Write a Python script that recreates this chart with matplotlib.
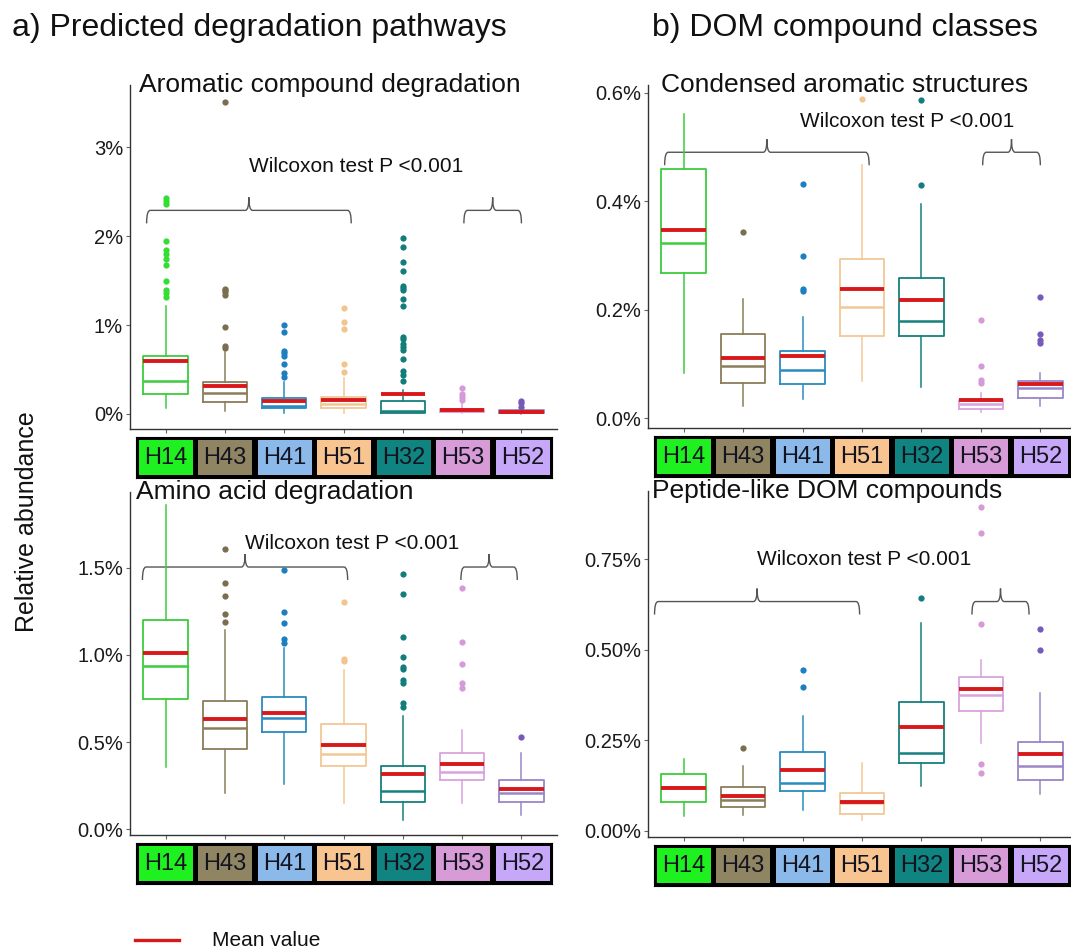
import matplotlib
matplotlib.use("Agg")
import matplotlib.pyplot as plt
from matplotlib.path import Path
from matplotlib.patches import PathPatch
from matplotlib.lines import Line2D

plt.rcParams["font.family"] = ["Liberation Sans", "DejaVu Sans"]

W, H = 1071, 949

groups = ["H14", "H43", "H41", "H51", "H32", "H53", "H52"]
line_colors = ["#3dcc3d", "#8a7d5a", "#2a8bbf", "#f2c796", "#15807e", "#d9a3dd", "#9a86c8"]
point_colors = ["#33dd33", "#7a6e4e", "#1d7fc0", "#f3c58e", "#137d7b", "#d69ad9", "#7759b8"]
strip_colors = ["#1ff01f", "#908562", "#8bb9ea", "#f8c48f", "#0f8480", "#d79bd8", "#c7a8f8"]
mean_color = "#d7191c"

# a) Aromatic compound degradation (%)
arom_q1 = [0.225, 0.131, 0.064, 0.064, 0.015, 0.019, 0.008]
arom_med = [0.37, 0.232, 0.094, 0.11, 0.037, 0.037, 0.026]
arom_q3 = [0.65, 0.363, 0.176, 0.195, 0.15, 0.056, 0.045]
arom_lo = [0.07, 0.034, 0.015, 0.01, 0.008, 0.008, 0.0]
arom_hi = [1.22, 0.70, 0.363, 0.40, 0.27, 0.12, 0.064]
arom_mean = [0.60, 0.318, 0.15, 0.157, 0.22, 0.045, 0.026]
arom_out = [
    [1.32, 1.36, 1.39, 1.50, 1.68, 1.74, 1.80, 1.84, 1.94, 2.36, 2.40, 2.43],
    [0.74, 0.77, 0.98, 1.34, 1.37, 1.39, 1.41, 3.51],
    [0.42, 0.46, 0.56, 0.65, 0.69, 0.71, 0.92, 1.0],
    [0.47, 0.56, 0.96, 1.04, 1.19],
    [0.37, 0.44, 0.48, 0.62, 0.72, 0.75, 0.79, 0.84, 0.87, 1.22, 1.29, 1.39,
     1.42, 1.44, 1.61, 1.71, 1.88, 1.98],
    [0.16, 0.19, 0.23, 0.29],
    [0.08, 0.12, 0.15],
]

# a) Amino acid degradation (%)
amino_q1 = [0.748, 0.458, 0.555, 0.362, 0.155, 0.282, 0.158]
amino_med = [0.935, 0.578, 0.637, 0.431, 0.221, 0.33, 0.206]
amino_q3 = [1.202, 0.735, 0.759, 0.601, 0.362, 0.435, 0.282]
amino_lo = [0.359, 0.21, 0.26, 0.149, 0.053, 0.149, 0.082]
amino_hi = [1.86, 1.141, 1.036, 0.912, 0.651, 0.569, 0.439]
amino_mean = [1.013, 0.632, 0.668, 0.483, 0.315, 0.372, 0.229]
amino_out = [
    [],
    [1.189, 1.236, 1.338, 1.412, 1.605],
    [1.068, 1.093, 1.183, 1.246, 1.488],
    [0.965, 0.975, 1.303],
    [0.702, 0.721, 0.84, 0.855, 0.916, 0.93, 0.988, 1.103, 1.351, 1.462],
    [0.807, 0.841, 0.946, 1.074, 1.38],
    [0.53],
]

# b) Condensed aromatic structures (%)
cond_q1 = [0.268, 0.065, 0.063, 0.152, 0.152, 0.017, 0.037]
cond_med = [0.323, 0.095, 0.089, 0.204, 0.178, 0.025, 0.055]
cond_q3 = [0.46, 0.154, 0.124, 0.294, 0.258, 0.034, 0.068]
cond_lo = [0.083, 0.022, 0.035, 0.068, 0.057, 0.011, 0.022]
cond_hi = [0.56, 0.22, 0.186, 0.467, 0.394, 0.046, 0.083]
cond_mean = [0.346, 0.111, 0.114, 0.237, 0.218, 0.033, 0.063]
cond_out = [
    [],
    [0.343],
    [0.235, 0.237, 0.298, 0.432],
    [0.589],
    [0.43, 0.586],
    [0.065, 0.071, 0.095, 0.181],
    [0.138, 0.143, 0.155, 0.223],
]

# b) Peptide-like DOM compounds (%)
pept_q1 = [0.081, 0.067, 0.109, 0.046, 0.187, 0.332, 0.141]
pept_med = [0.121, 0.086, 0.133, 0.078, 0.214, 0.375, 0.178]
pept_q3 = [0.157, 0.122, 0.219, 0.104, 0.355, 0.424, 0.245]
pept_lo = [0.04, 0.044, 0.058, 0.03, 0.124, 0.242, 0.102]
pept_hi = [0.198, 0.178, 0.317, 0.187, 0.573, 0.472, 0.382]
pept_mean = [0.118, 0.097, 0.168, 0.079, 0.286, 0.392, 0.213]
pept_out = [
    [],
    [0.228],
    [0.398, 0.444],
    [],
    [0.644],
    [0.159, 0.185, 0.571, 0.822, 0.893],
    [0.498, 0.557],
]

fig = plt.figure(figsize=(W / 100, H / 100), dpi=100)


def px_axes(left, top, right, bottom):
    return fig.add_axes([left / W, 1 - bottom / H, (right - left) / W, (bottom - top) / H])


def brace(ax, x1, x2, y, d, w=0.06):
    xm = (x1 + x2) / 2
    verts = [(x1, y - d), (x1, y), (x1 + w, y), (xm - w, y), (xm, y), (xm, y + d),
             (xm, y), (xm + w, y), (x2 - w, y), (x2, y), (x2, y - d)]
    codes = [Path.MOVETO, Path.CURVE3, Path.CURVE3, Path.LINETO, Path.CURVE3, Path.CURVE3,
             Path.CURVE3, Path.CURVE3, Path.LINETO, Path.CURVE3, Path.CURVE3]
    ax.add_patch(PathPatch(Path(verts, codes), fill=False, edgecolor="#555555", lw=1.0))


def box_panel(box, q1, med, q3, lo, hi, mean, out, ylim, yticks, ylabels,
              title, title_x, wil_x, wil_y, br_left, br_right, br_y):
    left, top, right, bottom = box
    ax = px_axes(left, top, right, bottom)
    stats = []
    for i in range(len(groups)):
        stats.append(dict(q1=q1[i], med=med[i], q3=q3[i], whislo=lo[i], whishi=hi[i],
                          mean=mean[i], fliers=out[i], label=groups[i]))
    pos = list(range(1, len(groups) + 1))
    bp = ax.bxp(stats, positions=pos, widths=0.75, showmeans=True, meanline=True,
                showcaps=False,
                boxprops=dict(lw=1.3), whiskerprops=dict(lw=1.1),
                medianprops=dict(lw=1.8),
                meanprops=dict(color=mean_color, lw=2.8, ls="-", zorder=4),
                flierprops=dict(marker="o", markersize=4.5, markeredgewidth=0))
    for i in range(len(groups)):
        bp["boxes"][i].set_color(line_colors[i])
        bp["medians"][i].set_color(line_colors[i])
        bp["whiskers"][2 * i].set_color(line_colors[i])
        bp["whiskers"][2 * i + 1].set_color(line_colors[i])
        bp["fliers"][i].set_markerfacecolor(point_colors[i])
        bp["means"][i].set_color(mean_color)
    ax.set_xlim(0.4, 7.6)
    ax.set_ylim(*ylim)
    ax.set_yticks(yticks)
    ax.set_yticklabels(ylabels)
    ax.set_xticks(pos)
    ax.set_xticklabels([])
    for s in ["top", "right"]:
        ax.spines[s].set_visible(False)
    for s in ["left", "bottom"]:
        ax.spines[s].set_color("#333333")
        ax.spines[s].set_linewidth(1.0)
    ax.tick_params(axis="y", length=3, color="#666666", labelsize=14.5,
                   labelcolor="#1a1a1a", pad=2)
    ax.tick_params(axis="x", length=3, color="#666666")
    ax.text(title_x, 1.0, title, transform=ax.transAxes, fontsize=19,
            ha="left", va="center", color="#111111")
    ax.text(wil_x, wil_y, "Wilcoxon test P <0.001", fontsize=15, ha="center",
            va="center", color="#111111")
    d = 13 / (bottom - top) * (ylim[1] - ylim[0])
    brace(ax, br_left[0], br_left[1], br_y, d)
    brace(ax, br_right[0], br_right[1], br_y, d)

    # colored group strip below the axis
    sx = px_axes(left + 36 - 30, bottom + 8, left + 36 + 6 * 59.4 + 30, bottom + 49)
    sx.set_facecolor("black")
    sx.bar(pos, 0.84, bottom=0.08, width=0.91, color=strip_colors)
    for i, g in enumerate(groups):
        sx.text(pos[i], 0.48, g, ha="center", va="center", fontsize=17, color="#141420")
    sx.set_xlim(0.5, 7.5)
    sx.set_ylim(0, 1)
    sx.set_xticks([])
    sx.set_yticks([])
    return ax


box_panel((130, 85, 557, 429), arom_q1, arom_med, arom_q3, arom_lo, arom_hi, arom_mean,
          arom_out, (-0.169, 3.70), [0, 1, 2, 3], ["0%", "1%", "2%", "3%"],
          "Aromatic compound degradation", 0.02, 4.22, 2.78,
          (0.68, 4.13), (6.03, 7.0), 2.29)

box_panel((130, 492, 557, 835), amino_q1, amino_med, amino_q3, amino_lo, amino_hi,
          amino_mean, amino_out, (-0.033, 1.933), [0, 0.5, 1.0, 1.5],
          ["0.0%", "0.5%", "1.0%", "1.5%"],
          "Amino acid degradation", 0.015, 4.15, 1.637,
          (0.61, 4.07), (5.98, 6.93), 1.503)

box_panel((648, 85, 1076, 428), cond_q1, cond_med, cond_q3, cond_lo, cond_hi, cond_mean,
          cond_out, (-0.0184, 0.614), [0, 0.2, 0.4, 0.6], ["0.0%", "0.2%", "0.4%", "0.6%"],
          "Condensed aromatic structures", 0.03, 4.76, 0.546,
          (0.68, 4.12), (6.03, 7.0), 0.490)

box_panel((648, 491, 1076, 837), pept_q1, pept_med, pept_q3, pept_lo, pept_hi, pept_mean,
          pept_out, (-0.0166, 0.938), [0, 0.25, 0.5, 0.75],
          ["0.00%", "0.25%", "0.50%", "0.75%"],
          "Peptide-like DOM compounds", 0.01, 4.03, 0.748,
          (0.51, 3.96), (5.85, 6.81), 0.633)

fig.text(12 / W, 1 - 28 / H, "a) Predicted degradation pathways", fontsize=23,
         ha="left", va="center", color="#111111")
fig.text(652 / W, 1 - 28 / H, "b) DOM compound classes", fontsize=23,
         ha="left", va="center", color="#111111")
fig.text(27 / W, 1 - 522 / H, "Relative abundance", fontsize=18, rotation=90,
         ha="center", va="center", color="#111111")

fig.add_artist(Line2D([135 / W, 179 / W], [1 - 940 / H, 1 - 940 / H],
                      color=mean_color, lw=2.4))
fig.text(212 / W, 1 - 940 / H, "Mean value", fontsize=15, ha="left", va="center",
         color="#111111")

fig.savefig("out.png", dpi=100)
